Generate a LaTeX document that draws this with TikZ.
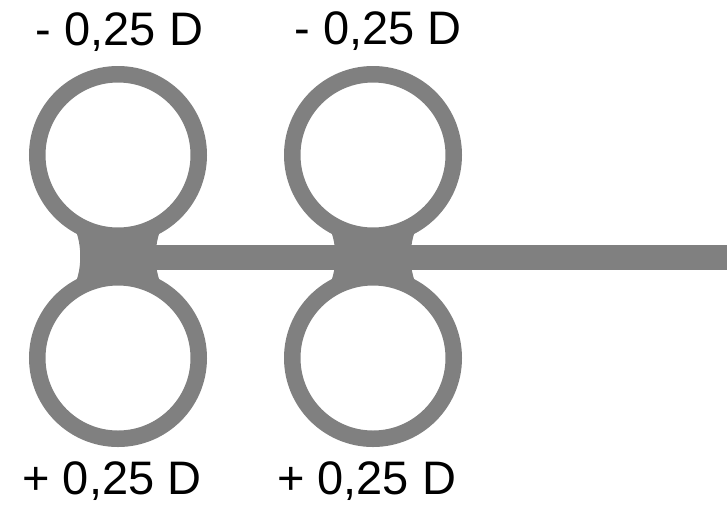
\documentclass[tikz,border=0pt]{standalone}
\usepackage{fontspec}
\setmainfont{Liberation Sans}
\begin{document}
\begin{tikzpicture}[x=1pt,y=-1pt,
  ring/.style={draw=lensgray,line width=16.5pt},
  lbl/.style={anchor=base,inner sep=0pt,font=\fontsize{47}{50}\selectfont},
  fillg/.style={fill=lensgray,draw=none}]
\definecolor{lensgray}{HTML}{808080}
\useasboundingbox (0,0) rectangle (727,504);
% bar
\fill[lensgray] (140,245) rectangle (727,270);
% left lens
\coordinate (L1) at (118,155);
\coordinate (L2) at (118,358);
\draw[ring] (L1) circle[radius=80.75];
\draw[ring] (L2) circle[radius=80.75];
\path[fillg] (75,229) .. controls (82,244) and (82,269) .. (75,284) -- (161,284) .. controls (154,269) and (154,244) .. (161,229) -- cycle;
% right lens
\coordinate (R1) at (373,155);
\coordinate (R2) at (373,358);
\draw[ring] (R1) circle[radius=80.75];
\draw[ring] (R2) circle[radius=80.75];
\path[fillg] (330,229) .. controls (337,244) and (337,269) .. (330,284) -- (416,284) .. controls (409,269) and (409,244) .. (416,229) -- cycle;
% labels
\node[lbl] (t1) at (119.5,45) {- 0,25 D};
\node[lbl] (t2) at (378,44) {- 0,25 D};
\node[lbl] (b1) at (112,494) {+ 0,25 D};
\node[lbl] (b2) at (366.5,494) {+ 0,25 D};
\end{tikzpicture}
\end{document}
